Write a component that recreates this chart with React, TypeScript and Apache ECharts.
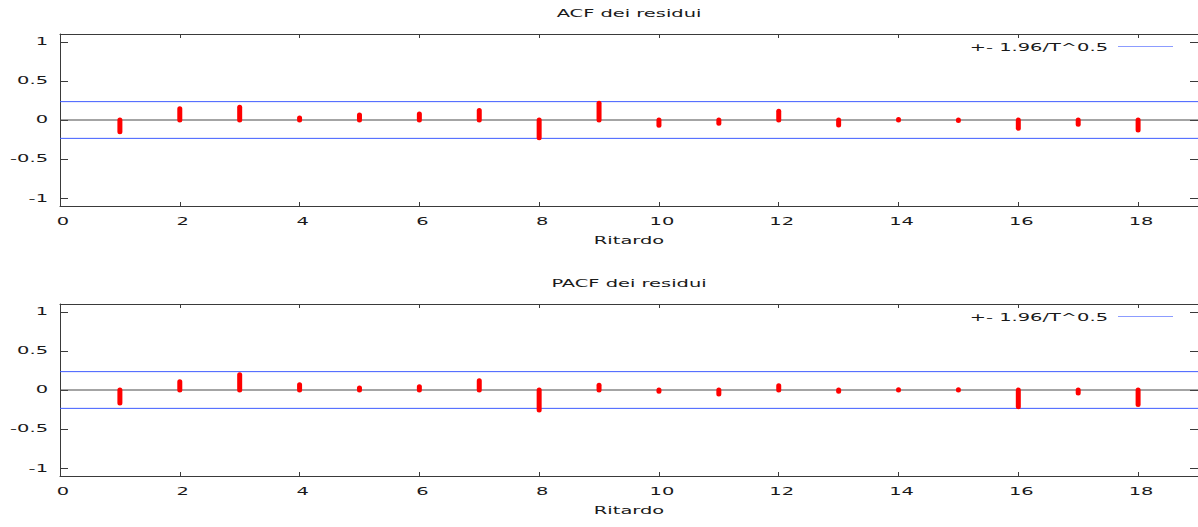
import React, { useEffect, useRef } from "react";
import * as echarts from "echarts";

// ---- data ----
const lags = [1, 2, 3, 4, 5, 6, 7, 8, 9, 10, 11, 12, 13, 14, 15, 16, 17, 18];
const acfValues = [-0.149, 0.145, 0.162, 0.026, 0.064, 0.077, 0.123, -0.226, 0.213, -0.068, -0.043, 0.111, -0.064, 0.005, -0.005, -0.106, -0.055, -0.128];
const pacfValues = [-0.166, 0.106, 0.196, 0.068, 0.026, 0.043, 0.119, -0.255, 0.06, -0.017, -0.051, 0.055, -0.015, 0.003, 0.004, -0.213, -0.038, -0.187];
const confBand = 0.235;
const xRange = [0, 19];
const yRange = [-1.1, 1.1];
const xTicks = [0, 2, 4, 6, 8, 10, 12, 14, 16, 18];
const xTickLabels = ["0", "2", "4", "6", "8", "10", "12", "14", "16", "18"];
const yTicks = [-1, -0.5, 0, 0.5, 1];
const yTickLabels = ["-1", "-0.5", "0", "0.5", "1"];
const panelTitles = ["ACF dei residui", "PACF dei residui"];
const xAxisName = "Ritardo";
const legendLabel = "+- 1.96/T^0.5";

const panels = [acfValues, pacfValues];

const FONT_FAMILY = '"DejaVu Sans", "Noto Sans", sans-serif';
const FONT_SIZE = 10.5;
const SX = 1.85;
const AXIS_COLOR = "#3a3a3a";
const BAND_COLOR = "#3f5cff";

export default function App() {
  const ref = useRef<HTMLDivElement>(null);

  useEffect(() => {
    if (!ref.current) return;
    const chart = echarts.init(ref.current, null, { renderer: "svg" });

    const grids = [
      { left: 60, top: 34, width: 1140, height: 172 },
      { left: 60, top: 304, width: 1140, height: 172 },
    ];

    const xAxes: any[] = [];
    const yAxes: any[] = [];
    const series: any[] = [];

    panels.forEach((vals, g) => {
      ["bottom", "top"].forEach((pos) => {
        xAxes.push({
          type: "value",
          gridIndex: g,
          position: pos,
          min: xRange[0],
          max: xRange[1],
          interval: 2,
          axisLine: { show: true, onZero: false, lineStyle: { color: AXIS_COLOR, width: 1 } },
          axisTick: { show: true, inside: true, length: 4, lineStyle: { color: AXIS_COLOR, width: 1 } },
          axisLabel: { show: false },
          splitLine: { show: false },
        });
      });
      ["left", "right"].forEach((pos) => {
        yAxes.push({
          type: "value",
          gridIndex: g,
          position: pos,
          min: yRange[0],
          max: yRange[1],
          axisLine: { show: true, onZero: false, lineStyle: { color: AXIS_COLOR, width: 1 } },
          axisTick: { show: true, inside: true, length: 8, customValues: yTicks, lineStyle: { color: AXIS_COLOR, width: 1 } },
          axisLabel: { show: false, customValues: yTicks },
          splitLine: { show: false },
        });
      });

      const xi = 2 * g;
      const yi = 2 * g;
      series.push({
        type: "line",
        name: "zero" + g,
        xAxisIndex: xi,
        yAxisIndex: yi,
        data: [[xRange[0], 0], [xRange[1], 0]],
        symbol: "none",
        silent: true,
        lineStyle: { color: "#4a4a4a", width: 1.2 },
        z: 2,
      });
      [confBand, -confBand].forEach((b, k) => {
        series.push({
          type: "line",
          name: legendLabel,
          id: "band" + g + "_" + k,
          xAxisIndex: xi,
          yAxisIndex: yi,
          data: [[xRange[0], b], [xRange[1], b]],
          symbol: "none",
          silent: true,
          lineStyle: { color: BAND_COLOR, width: 1 },
          z: 2,
        });
      });
      series.push({
        type: "custom",
        name: panelTitles[g],
        coordinateSystem: "cartesian2d",
        xAxisIndex: xi,
        yAxisIndex: yi,
        data: lags.map((l, i) => [l, vals[i]]),
        encode: { x: 0, y: 1 },
        z: 3,
        renderItem: (_params: any, api: any) => {
          const x = api.value(0);
          const v = api.value(1);
          const p0 = api.coord([x, 0]);
          const p1 = api.coord([x, v]);
          return {
            type: "line",
            shape: { x1: p0[0], y1: p0[1], x2: p1[0], y2: p1[1] },
            style: { stroke: "#ff0000", lineWidth: 5, lineCap: "round" },
          };
        },
      });
    });

    chart.setOption({
      animation: false,
      backgroundColor: "#ffffff",
      grid: grids,
      xAxis: xAxes,
      yAxis: yAxes,
      series,
    });

    const mkText = (text: string, x: number, y: number, align: string) => ({
      type: "text",
      x,
      y,
      scaleX: SX,
      scaleY: 1,
      silent: true,
      style: {
        text,
        fontSize: FONT_SIZE,
        fontFamily: FONT_FAMILY,
        fill: "#1a1a1a",
        textAlign: align,
        textVerticalAlign: "middle",
        verticalAlign: "middle",
      },
    });

    const elements: any[] = [];
    panels.forEach((_vals, g) => {
      const xi = 2 * g;
      const yi = 2 * g;
      const px = (v: number) => chart.convertToPixel({ xAxisIndex: xi } as any, v) as number;
      const py = (v: number) => chart.convertToPixel({ yAxisIndex: yi } as any, v) as number;
      const left = px(xRange[0]);
      const right = px(xRange[1]);
      const top = py(yRange[1]);
      const bottom = py(yRange[0]);
      const cx = (left + right) / 2;

      xTicks.forEach((t, i) => elements.push(mkText(xTickLabels[i], px(t) + 3, bottom + 16, "center")));
      yTicks.forEach((t, i) => elements.push(mkText(yTickLabels[i], left - 12, py(t), "right")));
      elements.push(mkText(panelTitles[g], cx, top - 20.5, "center"));
      elements.push(mkText(xAxisName, cx, bottom + 35, "center"));
      elements.push(mkText(legendLabel, right - 90, top + 14, "right"));
      elements.push({
        type: "line",
        silent: true,
        shape: { x1: right - 80, y1: top + 12.5, x2: right - 25, y2: top + 12.5 },
        style: { stroke: "#8c9cff", lineWidth: 1.2 },
      });
    });

    chart.setOption({ graphic: elements });

    return () => {
      chart.dispose();
    };
  }, []);

  return (
    <div
      ref={ref}
      style={{ position: "absolute", left: 0, top: 0, width: 1198, height: 527, background: "#fff" }}
    />
  );
}
